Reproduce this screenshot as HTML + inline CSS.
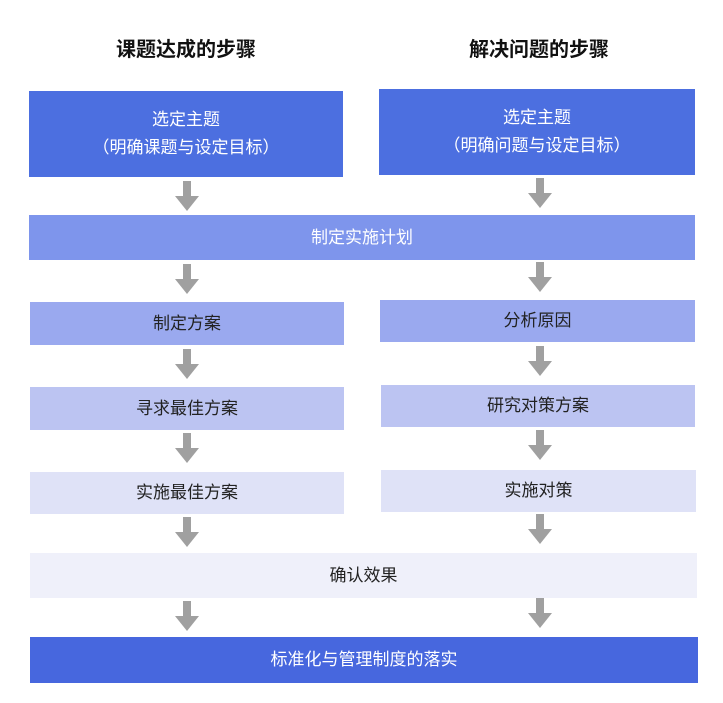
<!DOCTYPE html>
<html><head><meta charset="utf-8"><style>
body{margin:0;width:723px;height:703px;background:#fff;position:relative;overflow:hidden;font-family:"Liberation Sans","Noto Sans CJK SC",sans-serif}
.b{position:absolute;display:flex;align-items:center;justify-content:center;flex-direction:column;font-size:17px;color:#222;text-align:center;line-height:28px}
.w{color:#fff}
.t{position:absolute;font-size:20px;font-weight:bold;color:#111;width:320px;text-align:center;top:33px}
</style></head><body>
<div class="t" style="left:26px">课题达成的步骤</div>
<div class="t" style="left:379px">解决问题的步骤</div>

<div class="b w" style="left:29px;top:91px;width:314px;height:86px;background:#4c6fe0">选定主题<br>（明确课题与设定目标）</div>
<div class="b w" style="left:379px;top:89px;width:316px;height:86px;background:#4c6fe0">选定主题<br>（明确问题与设定目标）</div>
<div class="b w" style="left:29px;top:215px;width:666px;height:45px;background:#7e95ec">制定实施计划</div>
<div class="b" style="left:30px;top:302px;width:314px;height:43px;background:#9aa9ef">制定方案</div>
<div class="b" style="left:380px;top:300px;width:315px;height:42px;background:#9aa9ef">分析原因</div>
<div class="b" style="left:30px;top:387px;width:314px;height:43px;background:#bcc4f2">寻求最佳方案</div>
<div class="b" style="left:381px;top:385px;width:314px;height:42px;background:#bcc4f2">研究对策方案</div>
<div class="b" style="left:30px;top:472px;width:314px;height:42px;background:#dfe2f7">实施最佳方案</div>
<div class="b" style="left:381px;top:470px;width:315px;height:42px;background:#dfe2f7">实施对策</div>
<div class="b" style="left:30px;top:553px;width:667px;height:45px;background:#eff0fa">确认效果</div>
<div class="b w" style="left:30px;top:637px;width:668px;height:46px;background:#4767de">标准化与管理制度的落实</div>

<svg width="723" height="703" style="position:absolute;left:0;top:0">
<defs><g id="ar"><rect x="-4" y="0" width="8" height="17" fill="#a0a0a0"/><polygon points="-12,15 12,15 0,30" fill="#a0a0a0"/></g></defs>
<use href="#ar" x="187" y="181"/><use href="#ar" x="540" y="178"/>
<use href="#ar" x="187" y="264"/><use href="#ar" x="540" y="262"/>
<use href="#ar" x="187" y="349"/><use href="#ar" x="540" y="346"/>
<use href="#ar" x="187" y="433"/><use href="#ar" x="540" y="430"/>
<use href="#ar" x="187" y="517"/><use href="#ar" x="540" y="514"/>
<use href="#ar" x="187" y="601"/><use href="#ar" x="540" y="598"/>
</svg>
</body></html>
